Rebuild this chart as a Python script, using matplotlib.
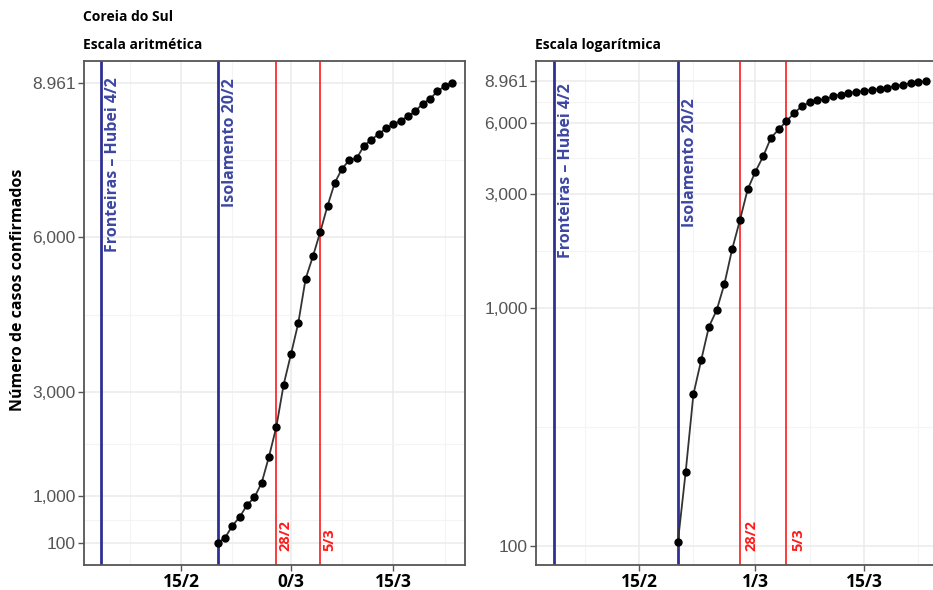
import datetime as dt
import matplotlib
matplotlib.use("Agg")
import matplotlib.pyplot as plt
import matplotlib.transforms as mtransforms
import numpy as np

# Casos confirmados acumulados - Coreia do Sul (20/2 a 23/3)
start = dt.datetime(2020, 2, 20)
cases = [104, 204, 433, 602, 833, 977, 1261, 1766, 2337, 3150, 3736, 4335,
         5186, 5621, 6088, 6593, 7041, 7314, 7478, 7513, 7755, 7869, 7979,
         8086, 8162, 8236, 8320, 8413, 8565, 8652, 8799, 8897, 8961]
dates = [start + dt.timedelta(days=i) for i in range(len(cases))]

y_ticks = [100, 1000, 3000, 6000, 8961]
y_labels = ["100", "1,000", "3,000", "6,000", "8.961"]
x_ticks = [dt.datetime(2020, 2, 15), dt.datetime(2020, 3, 1), dt.datetime(2020, 3, 15)]
x_labels_left = ["15/2", "0/3", "15/3"]
x_labels_right = ["15/2", "1/3", "15/3"]

blue_events = [(dt.datetime(2020, 2, 4), "Fronteiras \u2013 Hubei 4/2"),
               (dt.datetime(2020, 2, 20), "Isolamento 20/2")]
red_events = [(dt.datetime(2020, 2, 28), "28/2"), (dt.datetime(2020, 3, 5), "5/3")]

BLUE_LINE = "#2E3192"
BLUE_TEXT = "#3D47A3"
RED = "#FF1A1A"
FONT = "Open Sans"

W, H = 933, 590
fig = plt.figure(figsize=(W / 100, H / 100), dpi=100)

ref = dt.datetime(2020, 2, 15)
xlim = (ref - dt.timedelta(days=13.3), ref + dt.timedelta(days=38.8))


def px_axes(x0, x1, top, bottom):
    return fig.add_axes([x0 / W, (H - bottom) / H, (x1 - x0) / W, (bottom - top) / H])


def style(ax, xlabels, log):
    ax.set_xlim(*xlim)
    ax.set_xticks(x_ticks)
    ax.set_xticklabels(xlabels, fontfamily=FONT, fontweight="bold",
                       fontsize=12.5, color="black")
    minor_x = [dt.datetime(2020, 2, 8), dt.datetime(2020, 2, 22),
               dt.datetime(2020, 3, 8), dt.datetime(2020, 3, 22)]
    ax.set_xticks(minor_x, minor=True)
    ax.set_yticks(y_ticks)
    ax.set_yticklabels(y_labels, fontfamily="Liberation Sans", fontsize=12.5, color="#555555")
    if log:
        lt = np.log10(y_ticks)
        minor_y = list(10 ** ((lt[:-1] + lt[1:]) / 2))
    else:
        minor_y = [(a + b) / 2 for a, b in zip(y_ticks[:-1], y_ticks[1:])]
    ax.set_yticks(minor_y, minor=True)
    ax.yaxis.set_minor_formatter(plt.NullFormatter())
    ax.xaxis.set_minor_formatter(plt.NullFormatter())
    ax.tick_params(which="minor", length=0)
    ax.tick_params(which="major", length=4, width=1, color="#555555", pad=2)
    ax.grid(which="major", color="#EBEBEB", lw=1.1)
    ax.grid(which="minor", color="#F4F4F4", lw=0.8)
    ax.set_axisbelow(True)
    for s in ax.spines.values():
        s.set_color("#555555")
        s.set_linewidth(1.3)


def draw(ax, blue_tops, red_dx):
    trans = mtransforms.blended_transform_factory(ax.transData, ax.transAxes)
    for (d, label), top in zip(blue_events, blue_tops):
        ax.axvline(d, color=BLUE_LINE, lw=2.0, zorder=2)
        ax.text(d + dt.timedelta(days=1.6), top, label, rotation=90, ha="center", va="top",
                transform=trans, color=BLUE_TEXT, fontfamily=FONT, fontweight="bold",
                fontsize=11.5)
    for d, label in red_events:
        ax.axvline(d, color=RED, lw=1.2, zorder=2)
        ax.text(d + dt.timedelta(days=red_dx), 0.028, label, rotation=90, ha="center",
                va="bottom", transform=trans, color=RED, fontfamily=FONT,
                fontweight="bold", fontsize=10.5)
    ax.plot(dates, cases, color="#333333", lw=1.3, marker="o", markersize=5,
            markerfacecolor="black", markeredgecolor="black", zorder=3)


# Escala aritmetica
ax1 = px_axes(84, 465, 61, 565)
draw(ax1, [0.968, 0.966], 1.2)
ax1.set_ylim(-324, 9385)
style(ax1, x_labels_left, log=False)

# Escala logaritmica
ax2 = px_axes(536, 940, 61, 565)
draw(ax2, [0.956, 0.927], 1.5)
ax2.set_yscale("log")
ax2.set_ylim(83, 10900)
style(ax2, x_labels_right, log=True)

fig.text(83 / W, 1 - 17 / H, "Coreia do Sul", fontfamily=FONT, fontweight="bold",
         fontsize=10, va="center", ha="left")
fig.text(83 / W, 1 - 45 / H, "Escala aritm\u00e9tica", fontfamily=FONT, fontweight="bold",
         fontsize=10, va="center", ha="left")
fig.text(535 / W, 1 - 45 / H, "Escala logar\u00edtmica", fontfamily=FONT, fontweight="bold",
         fontsize=10, va="center", ha="left")
fig.text(18 / W, 1 - 290 / H, "N\u00famero de casos confirmados", rotation=90,
         fontfamily=FONT, fontweight="bold", fontsize=11.5, va="center", ha="center")

fig.savefig("out.png", dpi=100)
